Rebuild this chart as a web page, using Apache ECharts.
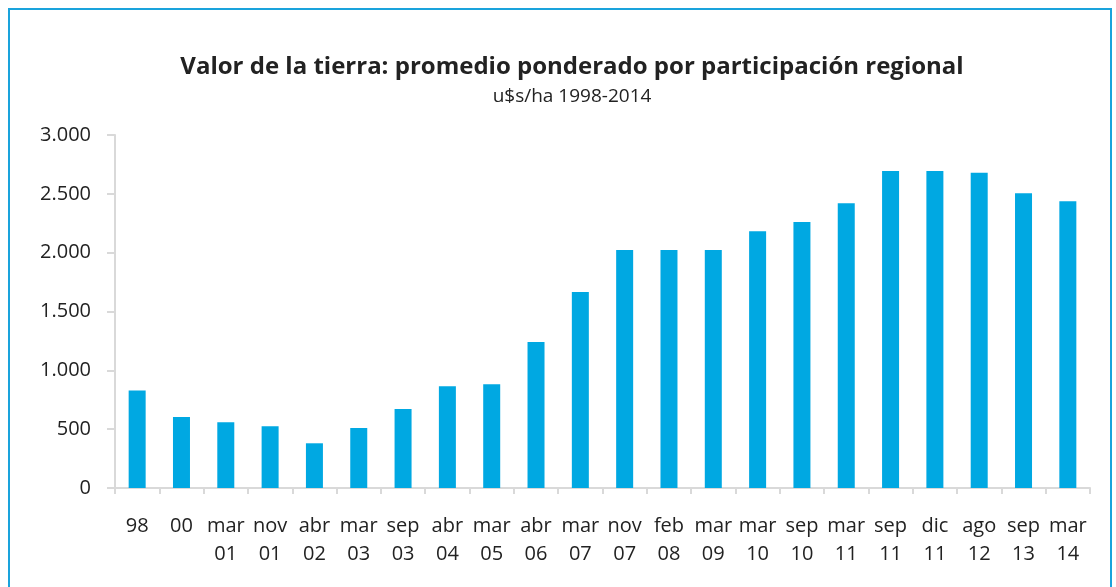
<!DOCTYPE html>
<html>
<head>
<meta charset="utf-8">
<script src="https://cdn.jsdelivr.net/npm/echarts@6/dist/echarts.min.js"></script>
<style>
  html, body { margin: 0; padding: 0; background: #fff; overflow: hidden; }
  #frame { position: absolute; left: 8px; top: 8px; width: 1104px; height: 600px;
           border: 2px solid #1aa3dc; box-sizing: border-box; }
  #chart { position: absolute; left: 0; top: 0; width: 1116px; height: 587px; }
</style>
</head>
<body>
<div id="frame"></div>
<div id="chart"></div>
<script>
// valor de la tierra, u$s/ha
var categories = ['98', '00', 'mar\n01', 'nov\n01', 'abr\n02', 'mar\n03', 'sep\n03', 'abr\n04',
    'mar\n05', 'abr\n06', 'mar\n07', 'nov\n07', 'feb\n08', 'mar\n09', 'mar\n10', 'sep\n10',
    'mar\n11', 'sep\n11', 'dic\n11', 'ago\n12', 'sep\n13', 'mar\n14'];
var values = [828, 603, 558, 524, 380, 510, 671, 864, 881, 1240, 1665, 2022, 2022, 2022,
    2183, 2260, 2421, 2693, 2693, 2679, 2504, 2438];
var yTicks = [0, 500, 1000, 1500, 2000, 2500, 3000];

window.onload = function () {
    var myChart = echarts.init(document.getElementById('chart'));

    var option = {
        animation: false,
        textStyle: { fontFamily: 'Open Sans' },
        title: {
            text: 'Valor de la tierra: promedio ponderado por participación regional',
            subtext: 'u$s/ha 1998-2014',
            left: 567,
            textAlign: 'center',
            top: 47,
            itemGap: 3,
            textStyle: { fontSize: 24, fontWeight: 'bold', color: '#222', lineHeight: 30 },
            subtextStyle: { fontSize: 19, color: '#222', lineHeight: 24 }
        },
        grid: { left: 115, right: 26, top: 135, bottom: 99 },
        xAxis: {
            type: 'category',
            data: categories,
            axisLine: { lineStyle: { color: '#d9d9d9', width: 2 } },
            axisTick: { show: true, length: 6, lineStyle: { color: '#d9d9d9', width: 2 } },
            axisLabel: { color: '#222', fontSize: 20, lineHeight: 28, margin: 24, interval: 0 }
        },
        yAxis: {
            type: 'value',
            min: yTicks[0],
            max: yTicks[yTicks.length - 1],
            interval: 500,
            splitLine: { show: false },
            axisLine: { show: true, lineStyle: { color: '#d9d9d9', width: 2 } },
            axisTick: { show: true, length: 8, lineStyle: { color: '#d9d9d9', width: 2 } },
            axisLabel: {
                color: '#222', fontSize: 20, margin: 24,
                formatter: function (v) {
                    return v.toString().replace(/\B(?=(\d{3})+(?!\d))/g, '.');
                }
            }
        },
        series: [{
            type: 'bar',
            data: values,
            barWidth: 17,
            itemStyle: { color: '#00a8e2' }
        }]
    };
    myChart.setOption(option, true);
};
</script>
</body>
</html>
